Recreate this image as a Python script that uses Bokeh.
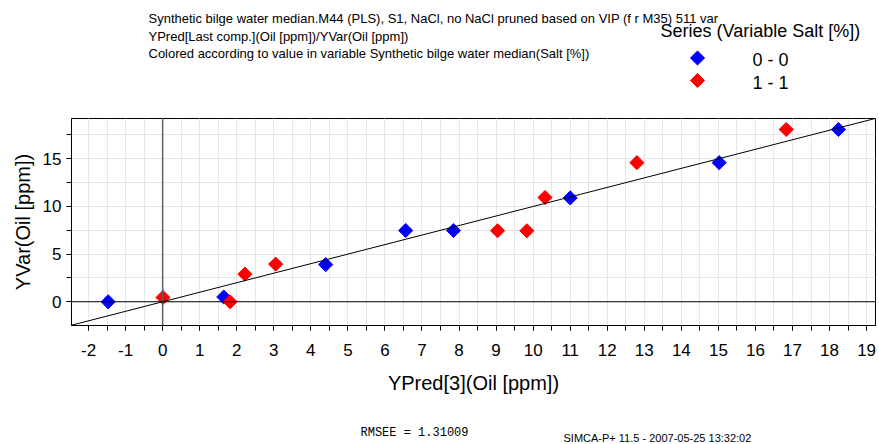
import math

from bokeh.core.properties import value
from bokeh.embed import file_html
from bokeh.layouts import column
from bokeh.models import (PrintfTickFormatter, Range1d, SingleIntervalTicker,
                          Slope, Span)
from bokeh.plotting import figure
from bokeh.resources import INLINE

# Observed vs. predicted oil concentration, split by salt level
salt0_pred = [-1.47, 1.65, 4.40, 6.56, 7.85, 11.00, 15.02, 18.24]
salt0_obs = [0.00, 0.50, 3.90, 7.48, 7.48, 10.90, 14.60, 18.08]
salt1_pred = [0.01, 1.82, 2.22, 3.05, 9.04, 9.83, 10.32, 12.80, 16.83]
salt1_obs = [0.45, 0.00, 2.90, 3.95, 7.45, 7.45, 10.94, 14.60, 18.08]

series_labels = ["0 - 0", "1 - 1"]
series_colors = ["#0000FF", "#FF0000"]

x_range = (-2.46, 19.24)
y_range = (-2.49, 19.23)

header_lines = [
    "Synthetic bilge water median.M44 (PLS), S1, NaCl, no NaCl pruned based on VIP  (f r M35) 511 var",
    "YPred[Last comp.](Oil [ppm])/YVar(Oil [ppm])",
    "Colored according to value in variable Synthetic bilge water median(Salt [%])",
]
legend_title = "Series (Variable Salt [%])"
rmsee_text = "RMSEE = 1.31009"
footer_text = "SIMCA-P+ 11.5 - 2007-05-25 13:32:02"

W = 879
TOP_H = 117      # header strip
MAIN_H = 298     # plot strip
BOT_H = 444 - TOP_H - MAIN_H
FL, FR = 71, 875          # frame left/right (px), shared by all strips
FRAME_BOTTOM = 325 - TOP_H  # frame bottom inside the plot strip

# legend layout (pixels within the header strip)
LEGEND_SWATCH_X = 697
LEGEND_TEXT_X = 752
LEGEND_ROWS_Y = [57.5, 80]

FONT = "Liberation Sans"


def blank_strip(height):
    # a strip whose frame spans the plot frame's width, with pixel-like data coordinates
    f = figure(width=W, height=height, x_range=Range1d(FL, FR),
               y_range=Range1d(height, 0), output_backend="svg",
               toolbar_location=None, min_border=0,
               min_border_left=FL, min_border_right=W - FR)
    f.axis.visible = False
    f.grid.visible = False
    f.outline_line_color = None
    f.background_fill_color = "white"
    f.border_fill_color = "white"
    return f


# ---------------- header: description lines and legend ----------------
top = blank_strip(TOP_H)
top.text(x=[148] * len(header_lines), y=[18, 35.5, 53], text=header_lines,
         text_font=value(FONT), text_font_size=value("13px"),
         text_color="black", text_baseline="middle", text_align="left")
top.text(x=[660], y=[30.5], text=[legend_title],
         text_font=value(FONT), text_font_size=value("18px"),
         text_color="black", text_baseline="middle", text_align="left")
top.scatter(x=[LEGEND_SWATCH_X] * 2, y=LEGEND_ROWS_Y, marker="square",
            angle=math.pi / 4, size=10, fill_color=series_colors,
            line_color=series_colors)
top.text(x=[LEGEND_TEXT_X] * 2, y=[r + 2 for r in LEGEND_ROWS_Y], text=series_labels,
         text_font=value(FONT), text_font_size=value("18px"),
         text_color="black", text_baseline="middle", text_align="left")

# ---------------- main scatter plot ----------------
p = figure(width=W, height=MAIN_H, x_range=x_range, y_range=y_range,
           output_backend="svg", toolbar_location=None,
           min_border_left=FL, min_border_right=W - FR,
           min_border_top=1, min_border_bottom=MAIN_H - FRAME_BOTTOM)
p.background_fill_color = "white"
p.border_fill_color = "white"
p.outline_line_color = "black"
p.outline_line_width = 1

p.xaxis.ticker = SingleIntervalTicker(interval=1, num_minor_ticks=2)
p.yaxis.ticker = SingleIntervalTicker(interval=5, num_minor_ticks=2)
p.xaxis.formatter = PrintfTickFormatter(format="%d")
p.yaxis.formatter = PrintfTickFormatter(format="%d")
for ax in (p.xaxis[0], p.yaxis[0]):
    ax.axis_line_color = "black"
    ax.major_tick_line_color = "black"
    ax.minor_tick_line_color = "black"
    ax.major_tick_in = 0
    ax.major_tick_out = 5
    ax.minor_tick_in = 0
    ax.minor_tick_out = 5
    ax.major_label_text_font = FONT
    ax.major_label_text_font_size = "17px"
    ax.major_label_text_color = "black"
    ax.axis_label_text_font = FONT
    ax.axis_label_text_font_size = "20px"
    ax.axis_label_text_font_style = "normal"
    ax.axis_label_text_color = "black"

p.xaxis.axis_label = "YPred[3](Oil [ppm])"
p.yaxis.axis_label = "YVar(Oil [ppm])"
p.xaxis.major_label_standoff = 13
p.xaxis.axis_label_standoff = 13
p.yaxis.major_label_standoff = 5
p.yaxis.axis_label_standoff = 6

for g in (p.xgrid[0], p.ygrid[0]):
    g.grid_line_color = "#E6E6E6"
    g.grid_line_width = 1
    g.minor_grid_line_color = "#E6E6E6"
    g.minor_grid_line_width = 1

# zero lines and the ideal-fit diagonal
p.add_layout(Span(location=0, dimension="width", line_color="black", line_width=1.2))
p.add_layout(Span(location=0, dimension="height", line_color="#606060", line_width=1.5))
p.add_layout(Slope(gradient=1, y_intercept=0, line_color="black", line_width=1))

p.scatter(salt0_pred, salt0_obs, marker="square", angle=math.pi / 4,
          size=10, fill_color=series_colors[0], line_color=series_colors[0])
p.scatter(salt1_pred, salt1_obs, marker="square", angle=math.pi / 4,
          size=10, fill_color=series_colors[1], line_color=series_colors[1])

# ---------------- footer ----------------
bot = blank_strip(BOT_H)
bot.text(x=[360], y=[17], text=[rmsee_text],
         text_font=value("Liberation Mono"), text_font_size=value("12px"),
         text_color="black", text_baseline="middle", text_align="left")
bot.text(x=[563], y=[22], text=[footer_text],
         text_font=value(FONT), text_font_size=value("11px"),
         text_color="black", text_baseline="middle", text_align="left")

layout = column(top, p, bot, spacing=0)

open("out.html", "w").write(file_html(layout, INLINE))
